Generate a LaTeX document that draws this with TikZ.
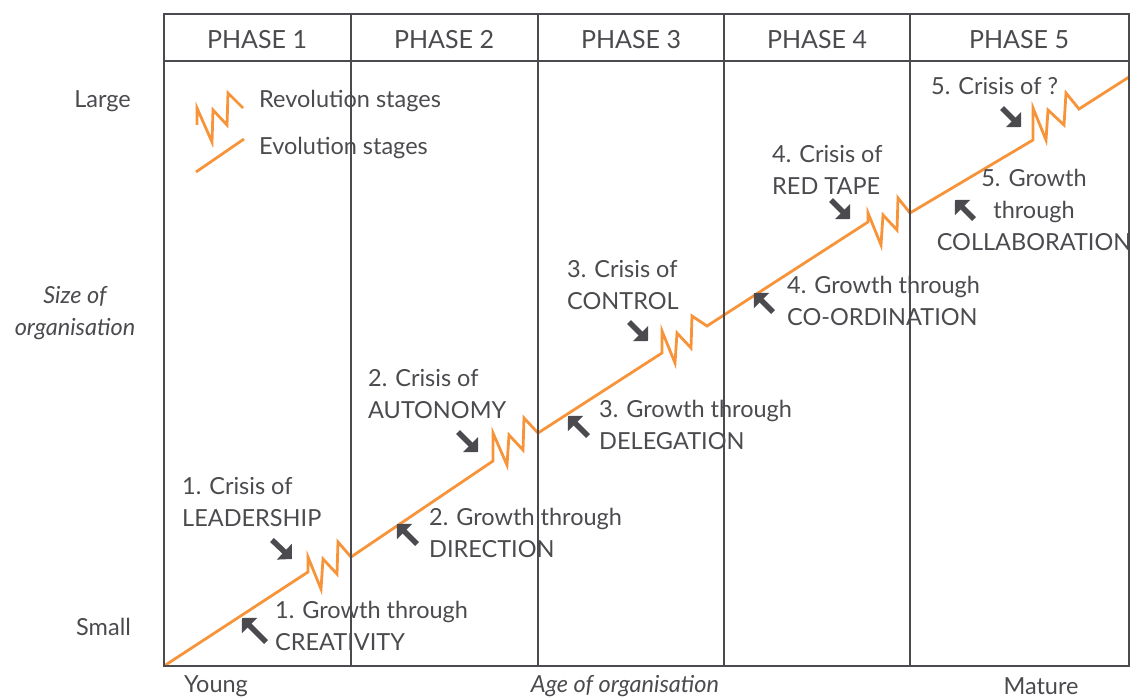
\documentclass[tikz,border=0pt]{standalone}
\usepackage{fontspec}
\setmainfont{Lato}
\usetikzlibrary{arrows.meta}
\definecolor{ink}{HTML}{4B4B4F}
\definecolor{org}{HTML}{F7943A}
\begin{document}
\begin{tikzpicture}[x=1pt,y=-1pt,
  grid/.style={draw=ink,line width=2.8pt},
  lbl/.style={text=ink,font=\fontsize{23.5}{32}\selectfont,inner sep=0pt,align=left,anchor=west},
  hdr/.style={text=ink,font=\fontsize{25}{28}\selectfont,inner sep=0pt},
  evo/.style={draw=org,line width=2.8pt,line join=miter},
  garrow/.style={draw=ink,line width=5.5pt,-{Triangle[angle=90:15pt]}},
]
\useasboundingbox (0,0) rectangle (1137,698);
% evolution / revolution line
\coordinate (o) at (164,666);
\coordinate (e) at (1129,77);
\draw[evo] (o) -- (308,572)
  -- (308,557) -- (321,589) -- (323,559) -- (337,574) -- (338,542) -- (351,557)
  -- (493,461)
  -- (493,433) -- (507,465) -- (509,435) -- (523,450) -- (524,418) -- (538,433)
  -- (662,353)
  -- (662,331) -- (675,363) -- (677,333) -- (691,348) -- (692,316) -- (707,326)
  -- (868,222)
  -- (868,213) -- (881,245) -- (883,215) -- (897,230) -- (898,198) -- (910,213)
  -- (1033,140)
  -- (1033,108) -- (1046,140) -- (1048,110) -- (1064,125) -- (1066,93) -- (1079,109)
  -- (e);
% legend
\draw[evo] (197,125) -- (197,108) -- (212,142) -- (213,110) -- (227,125) -- (228,93) -- (243,108);
\draw[evo] (196,172) -- (244,139);
\node[lbl] (lrev) at (259,101) {Revolution stages};
\node[lbl] (levo) at (259,148) {Evolution stages};
% arrows
\draw[garrow] (272,540) -- (292,559);
\draw[garrow] (458,432) -- (478,452);
\draw[garrow] (629,322) -- (648,341);
\draw[garrow] (831,200) -- (850,219);
\draw[garrow] (1002,108) -- (1021,127);
\draw[garrow] (266,642) -- (242,618);
\draw[garrow] (417,544) -- (397,524);
\draw[garrow] (588,436) -- (568,416);
\draw[garrow] (773,312) -- (754,293);
\draw[garrow] (974,219) -- (955,200);
% labels
\node[lbl] (c1) at (182,502) {1. Crisis of\\LEADERSHIP};
\node[lbl] (c2) at (368,394) {2. Crisis of\\AUTONOMY};
\node[lbl] (c3) at (567,285) {3. Crisis of\\CONTROL};
\node[lbl] (c4) at (772,170) {4. Crisis of\\RED TAPE};
\node[lbl] (c5) at (931,86) {5. Crisis of ?};
\node[lbl] (g1) at (275,626) {1. Growth through\\CREATIVITY};
\node[lbl] (g2) at (429,533) {2. Growth through\\DIRECTION};
\node[lbl] (g3) at (599,425) {3. Growth through\\DELEGATION};
\node[lbl] (g4) at (787,301) {4. Growth through\\CO-ORDINATION};
\node[lbl,align=center,anchor=center] (g5) at (1034,210) {5. Growth\\through\\COLLABORATION};
% axes texts
\node[lbl,anchor=east] (large) at (131,101) {Large};
\node[lbl,anchor=east] (small) at (131,627) {Small};
\node[lbl,align=center,anchor=center,font=\fontsize{23.5}{32}\selectfont\itshape] (size) at (75,313) {Size of\\organisation};
\node[lbl,anchor=center] (young) at (216,686) {Young};
\node[lbl,anchor=center,font=\fontsize{23.5}{32}\selectfont\itshape] (age) at (625,686) {Age of organisation};
\node[lbl,anchor=center] (mature) at (1041,686) {Mature};
% grid
\draw[grid] (164,14) rectangle (1129,666);
\draw[grid] (164,61) -- (1129,61);
\foreach \x in {351,538,724,910} \draw[grid] (\x,14) -- (\x,666);
\node[hdr] (p1) at (257,40) {PHASE 1};
\node[hdr] (p2) at (444,40) {PHASE 2};
\node[hdr] (p3) at (631,40) {PHASE 3};
\node[hdr] (p4) at (817,40) {PHASE 4};
\node[hdr] (p5) at (1019,40) {PHASE 5};
\end{tikzpicture}
\end{document}
